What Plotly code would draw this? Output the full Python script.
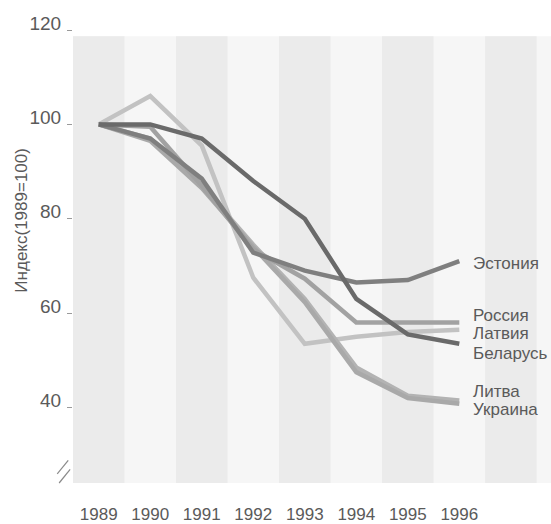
import plotly.graph_objects as go

# Real GDP index, 1989 = 100
years = [1989, 1990, 1991, 1992, 1993, 1994, 1995, 1996]
latvia = [100, 106, 95.5, 67.5, 53.5, 55, 56, 56.5]
lithuania = [100, 97, 87, 74.5, 63, 48.5, 42.5, 41.5]
ukraine = [100, 96.5, 86.5, 74, 62.3, 47.5, 42, 40.8]
russia = [100, 99.5, 87, 73.5, 67.3, 58, 58, 58]
estonia = [100, 97, 88.5, 72.8, 69, 66.5, 67, 71]
belarus = [100, 100, 97, 88, 80, 63, 55.5, 53.5]

y_ticks = [40, 60, 80, 100, 120]
x_labels = [str(y) for y in years]

# country name labels at the right end of the lines
label_names = ["Эстония", "Россия", "Латвия", "Беларусь", "Литва", "Украина"]
label_y = [70.6, 59.4, 55.6, 51.5, 43.4, 39.6]

series = [
    ("Латвия", latvia, "#c2c2c2"),
    ("Литва", lithuania, "#b3b3b3"),
    ("Украина", ukraine, "#a9a9a9"),
    ("Россия", russia, "#a2a2a2"),
    ("Эстония", estonia, "#7f7f7f"),
    ("Беларусь", belarus, "#6a6a6a"),
]

FONT = "Liberation Sans, Arial, sans-serif"
TEXT = "#5a5a5a"

fig = go.Figure()
for name, vals, col in series:
    fig.add_trace(go.Scatter(
        x=years, y=vals, mode="lines", name=name,
        line=dict(color=col, width=4.5), showlegend=False,
        hoverinfo="skip",
    ))

# alternating column bands behind the lines
X_MAX = 1997.78
BAND_TOP = 118.7
shapes = [dict(type="rect", xref="x", yref="y", x0=1988.5, x1=X_MAX,
               y0=24, y1=BAND_TOP, fillcolor="#f6f6f6", line_width=0,
               layer="below")]
for yr in [1989, 1991, 1993, 1995, 1997]:
    shapes.append(dict(type="rect", xref="x", yref="y",
                       x0=yr - 0.5, x1=min(yr + 0.5, X_MAX),
                       y0=24, y1=BAND_TOP, fillcolor="#ebebeb",
                       line_width=0, layer="below"))

# axis break marks
for dx, dy in [(0, 0), (0.004, -0.02)]:
    shapes.append(dict(type="line", xref="paper", yref="paper",
                       x0=-0.033 + dx, y0=0.02 + dy, x1=-0.01 + dx, y1=0.05 + dy,
                       line=dict(color="#8a8a8a", width=1.2)))

annotations = []
for name, ly in zip(label_names, label_y):
    annotations.append(dict(
        x=1996, y=ly, xref="x", yref="y", text=name, showarrow=False,
        xanchor="left", yanchor="middle", xshift=12,
        font=dict(family=FONT, size=17, color=TEXT),
    ))
annotations.append(dict(
    x=-0.108, y=0.58, xref="paper", yref="paper", text="Индекс(1989=100)",
    textangle=-90, showarrow=False, xanchor="center", yanchor="middle",
    font=dict(family=FONT, size=17, color=TEXT),
))

fig.update_layout(
    width=551, height=524,
    margin=dict(l=73, r=0, t=29.5, b=36),
    paper_bgcolor="white", plot_bgcolor="white",
    shapes=shapes, annotations=annotations,
    xaxis=dict(range=[1988.5, X_MAX], tickvals=years, ticktext=x_labels,
               showgrid=False, zeroline=False, showline=False,
               ticks="", ticklabelstandoff=19,
               tickfont=dict(family=FONT, size=17, color=TEXT)),
    yaxis=dict(range=[24, 120], tickvals=y_ticks,
               showgrid=False, zeroline=False, showline=False,
               ticks="outside", ticklen=5, tickcolor="#9a9a9a", tickwidth=1,
               ticklabelshift=-7, ticklabelstandoff=2,
               tickfont=dict(family=FONT, size=19, color=TEXT)),
)

fig.write_html("out.html")
